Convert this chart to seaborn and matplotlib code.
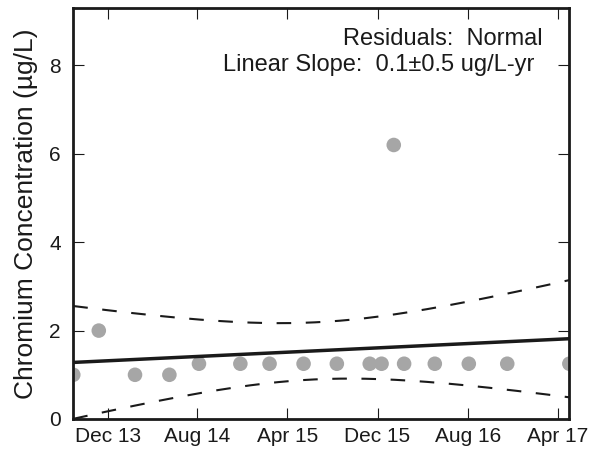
import numpy as np
import pandas as pd
import matplotlib
matplotlib.use("Agg")
import matplotlib.pyplot as plt
import matplotlib.dates as mdates
import seaborn as sns

# datos
fechas = ['2013-08-30', '2013-11-07', '2014-02-13', '2014-05-17', '2014-08-05',
          '2014-11-25', '2015-02-12', '2015-05-15', '2015-08-13', '2015-11-10',
          '2015-12-12', '2016-01-14', '2016-02-11', '2016-05-04', '2016-08-04',
          '2016-11-16', '2017-05-03']
cromo = [1.0, 2.0, 1.0, 1.0, 1.25,
         1.25, 1.25, 1.25, 1.25, 1.25,
         1.25, 6.2, 1.25, 1.25, 1.25,
         1.25, 1.25]
ticks_fechas = ['2013-12-01', '2014-08-01', '2015-04-01', '2015-12-01', '2016-08-01', '2017-04-01']
ticks_y = [0, 2, 4, 6, 8]

df = pd.DataFrame({'fecha': pd.to_datetime(fechas), 'cromo': cromo})

sns.set_theme(style="ticks")
plt.rcParams['font.family'] = ['Liberation Sans', 'DejaVu Sans']
plt.rcParams['xtick.direction'] = 'in'
plt.rcParams['ytick.direction'] = 'in'
plt.rcParams['text.color'] = 'k'
plt.rcParams['axes.labelcolor'] = 'k'

fig = plt.figure(figsize=(5.9, 4.51), dpi=100)
ax = fig.add_axes([0.1242, 0.071, 0.965 - 0.1242, 0.9823 - 0.071])

sns.scatterplot(data=df, x='fecha', y='cromo', ax=ax, s=110, color='#a6a6a6',
                edgecolor='none', zorder=2)

# regresion lineal con intervalo de confianza 95%
x = mdates.date2num(df['fecha'])
y = df['cromo'].values
n = len(x)
anos = (x - x.mean()) / 365.25
b, a = np.polyfit(anos, y, 1)
resid = y - (a + b * anos)
s = np.sqrt(np.sum(resid ** 2) / (n - 2))
t = 2.131  # t(0.975, gl=15)
xx = np.linspace(x.min(), x.max(), 200)
aa = (xx - x.mean()) / 365.25
yy = a + b * aa
se = s * np.sqrt(1.0 / n + aa ** 2 / np.sum(anos ** 2))

ax.plot(xx, yy, color='k', lw=2.5, zorder=3)
ax.plot(xx, yy + t * se, color='k', lw=1.5, dashes=(7, 7), zorder=3)
ax.plot(xx, yy - t * se, color='k', lw=1.5, dashes=(7, 7), zorder=3)

ax.set_xlim(x.min(), x.max())
ax.set_ylim(0, 9.3)
ax.xaxis.set_major_locator(matplotlib.ticker.FixedLocator(mdates.date2num(pd.to_datetime(ticks_fechas))))
ax.xaxis.set_major_formatter(mdates.DateFormatter('%b %y'))
ax.set_yticks(ticks_y)
ax.tick_params(axis='both', which='major', labelsize=15, length=8, width=0.8,
               top=True, right=True, colors='k')
ax.tick_params(axis='x', pad=6)
ax.tick_params(axis='y', pad=9)
ax.minorticks_off()
for sp in ax.spines.values():
    sp.set_linewidth(2)
    sp.set_color('k')

ax.set_xlabel('')
ax.set_ylabel('Chromium Concentration (µg/L)', fontsize=19, labelpad=8, color='k')

ax.text(0.947, 0.910, 'Residuals:  Normal', transform=ax.transAxes,
        ha='right', va='baseline', fontsize=17, color='k')
ax.text(0.929, 0.8475, 'Linear Slope:  0.1±0.5 ug/L-yr', transform=ax.transAxes,
        ha='right', va='baseline', fontsize=17, color='k')

fig.savefig('out.png', dpi=100)
